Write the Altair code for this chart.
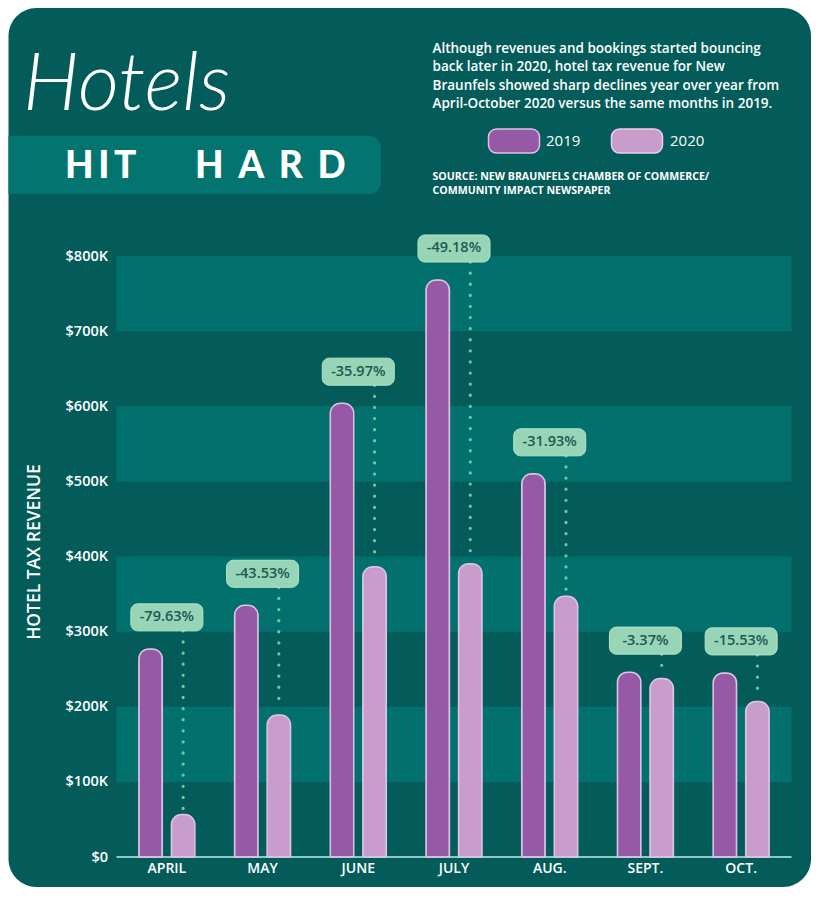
import altair as alt
import pandas as pd

months = ["APRIL", "MAY", "JUNE", "JULY", "AUG.", "SEPT.", "OCT."]
rev_2019 = [277000, 335000, 604000, 768000, 510000, 246000, 245000]
rev_2020 = [56500, 189000, 386500, 390500, 347000, 237500, 207000]
changes = ["-79.63%", "-43.53%", "-35.97%", "-49.18%", "-31.93%", "-3.37%", "-15.53%"]
band_starts = [100000, 300000, 500000, 700000]

BG = "#035c59"
BAND = "#02716d"
C19 = "#9659a5"
C20 = "#c99dcb"
MINT = "#98d5b6"
FONT = "Open Sans"

W, H = 670, 601

long_df = pd.DataFrame({
    "month": months * 2,
    "year": ["2019"] * 7 + ["2020"] * 7,
    "value": rev_2019 + rev_2020,
})
lab_df = pd.DataFrame({"month": months, "v19": rev_2019, "v20": rev_2020, "label": changes})
band_df = pd.DataFrame({"start": band_starts})

xs = alt.Scale(domain=months, paddingInner=0.415, paddingOuter=0.2075)
ys = alt.Scale(domain=[0, 800000])
xo = alt.Scale(domain=["2019", "2020"], paddingInner=0.28, paddingOuter=0)

one = alt.Data(values=[{"a": 1}])

card = alt.Chart(one).mark_rect(fill=BG, cornerRadius=28).encode(
    x=alt.value(-110.5), x2=alt.value(W + 22), y=alt.value(-248), y2=alt.value(H + 30)
)

bands = alt.Chart(band_df).transform_calculate(end="datum.start + 100000").mark_rect(fill=BAND).encode(
    x=alt.value(-2.5), x2=alt.value(W + 2.5),
    y=alt.Y("start:Q", scale=ys), y2="end:Q",
)

baseline = alt.Chart(one).mark_rule(color="#8ec9c1", strokeWidth=2).encode(
    y=alt.datum(0, scale=ys), x=alt.value(-2.5), x2=alt.value(W + 2.5)
)

bars = alt.Chart(long_df).mark_bar(
    cornerRadiusTopLeft=10, cornerRadiusTopRight=10, stroke="#dcc3e6", strokeWidth=1.5
).encode(
    x=alt.X("month:N", scale=xs, sort=months,
            axis=alt.Axis(title=None, domain=False, ticks=False, labelAngle=0, labelAlign="center",
                          zindex=2, labelFont=FONT, labelFontSize=14, labelFontWeight=600,
                          labelColor="white", labelPadding=11)),
    xOffset=alt.XOffset("year:N", scale=xo),
    y=alt.Y("value:Q", scale=ys,
            axis=alt.Axis(title=None, values=[i * 100000 for i in range(9)], domain=False, ticks=False,
                          grid=False, zindex=2, labelFont=FONT, labelFontSize=14.5, labelFontWeight=600,
                          labelColor="white", labelPadding=11.5,
                          labelExpr="datum.value == 0 ? '$0' : '$' + (datum.value/1000) + 'K'")),
    color=alt.Color("year:N", scale=alt.Scale(domain=["2019", "2020"], range=[C19, C20]), legend=None),
)

dots = alt.Chart(lab_df).transform_calculate(
    year="'2020'", lo="datum.v19 + 24000", top="datum.v20 + 8000"
).mark_rule(color="#6ccaa3", strokeWidth=3.2, strokeDash=[0.1, 11], strokeCap="round").encode(
    x=alt.X("month:N", scale=xs, sort=months),
    xOffset=alt.XOffset("year:N", scale=xo),
    y=alt.Y("lo:Q", scale=ys), y2="top:Q",
)

boxes = alt.Chart(lab_df).transform_calculate(
    lo="datum.v19 + 24000", hi="datum.v19 + 60000"
).mark_bar(width=72, fill=MINT, stroke="#b4e4cb", strokeWidth=1, cornerRadius=7).encode(
    x=alt.X("month:N", scale=xs, sort=months),
    y=alt.Y("lo:Q", scale=ys), y2="hi:Q",
)

box_text = alt.Chart(lab_df).transform_calculate(
    mid="datum.v19 + 42000"
).mark_text(font=FONT, fontSize=14.5, fontWeight=600, color="#1a5a53", baseline="middle").encode(
    x=alt.X("month:N", scale=xs, sort=months),
    y=alt.Y("mid:Q", scale=ys),
    text="label:N",
)

ytitle = alt.Chart(one).mark_text(
    text="HOTEL TAX REVENUE", font=FONT, fontSize=17.5, fontWeight=600, color="white",
    angle=270, align="center", baseline="middle"
).encode(x=alt.value(-84.5), y=alt.value(296))

title1 = alt.Chart(one).mark_text(
    text="Hotels", font="Lato", fontSize=80, fontStyle="italic", fontWeight=300, color="white",
    align="left", baseline="alphabetic"
).encode(x=alt.value(-96), y=alt.value(-146))

hit_band = alt.Chart(one).mark_rect(
    fill="#037470", cornerRadiusTopRight=12, cornerRadiusBottomRight=12
).encode(x=alt.value(-110.5), x2=alt.value(262), y=alt.value(-120), y2=alt.value(-62))

title2a = alt.Chart(one).mark_text(
    text="H\u2009I\u2009T", font="Lato", fontSize=37, fontWeight=900,
    color="white", align="left", baseline="alphabetic"
).encode(x=alt.value(-54), y=alt.value(-78))
title2b = alt.Chart(one).mark_text(
    text="H\u2004\u200aA\u2004\u200aR\u2004\u200aD", font="Lato", fontSize=37, fontWeight=900,
    color="white", align="left", baseline="alphabetic"
).encode(x=alt.value(76), y=alt.value(-78))

para = alt.Chart(one).mark_text(
    text=["Although revenues and bookings started bouncing",
          "back later in 2020, hotel tax revenue for New",
          "Braunfels showed sharp declines year over year from",
          "April-October 2020 versus the same months in 2019."],
    font=FONT, fontSize=13.5, fontWeight=600, color="white", align="left",
    baseline="alphabetic", lineHeight=18.3
).encode(x=alt.value(313.5), y=alt.value(-203))

sw19 = alt.Chart(one).mark_rect(fill=C19, stroke="#dcc3e6", strokeWidth=1.5, cornerRadius=8).encode(
    x=alt.value(369.5), x2=alt.value(420.5), y=alt.value(-127), y2=alt.value(-103))
sw20 = alt.Chart(one).mark_rect(fill=C20, stroke="#e6d2ea", strokeWidth=1.5, cornerRadius=8).encode(
    x=alt.value(492.5), x2=alt.value(543.5), y=alt.value(-127), y2=alt.value(-103))
lt19 = alt.Chart(one).mark_text(text="2019", font=FONT, fontSize=15, fontWeight=500, color="white",
                                align="left", baseline="middle").encode(x=alt.value(427), y=alt.value(-115))
lt20 = alt.Chart(one).mark_text(text="2020", font=FONT, fontSize=15, fontWeight=500, color="white",
                                align="left", baseline="middle").encode(x=alt.value(551), y=alt.value(-115))

source = alt.Chart(one).mark_text(
    text=["SOURCE: NEW BRAUNFELS CHAMBER OF COMMERCE/", "COMMUNITY IMPACT NEWSPAPER"],
    font=FONT, fontSize=10.6, fontWeight=700, color="white", align="left",
    baseline="alphabetic", lineHeight=14
).encode(x=alt.value(313.5), y=alt.value(-76))

chart = alt.layer(
    card, bands, baseline, dots, bars, boxes, box_text, ytitle,
    title1, hit_band, title2a, title2b, para, sw19, sw20, lt19, lt20, source
).properties(
    width=W, height=H, padding=0, background="white"
).configure_view(stroke=None)

chart.save("out.html", embed_options={"renderer": "svg", "actions": False})
